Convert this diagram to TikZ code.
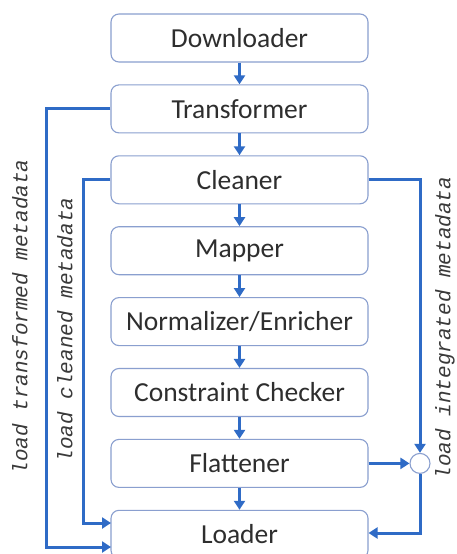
\documentclass[tikz,border=0pt]{standalone}
\usepackage{fontspec}
\setmainfont{Carlito}
\newfontfamily\labelfont{Liberation Mono}
\usetikzlibrary{arrows.meta}
\definecolor{boxline}{HTML}{8A9FCF}
\definecolor{flow}{HTML}{2F6BC6}
\definecolor{txt}{HTML}{2E2E2E}
\definecolor{ltxt}{HTML}{3A3A3A}
\tikzset{
  stage/.style={draw=boxline, line width=1.1pt, rounded corners=8pt, fill=white,
    minimum width=257pt, minimum height=48pt, inner sep=0pt,
    font=\fontsize{27.5}{30}\selectfont, text=txt},
  flowline/.style={draw=flow, line width=3pt, -{Triangle[length=9pt,width=11pt]}},
  vlabel/.style={rotate=90, font=\labelfont\itshape\fontsize{21}{24}\selectfont, text=ltxt, inner sep=0pt},
  junction/.style={circle, draw=boxline, line width=1.1pt, fill=white, minimum size=20pt, inner sep=0pt}
}
\begin{document}
\begin{tikzpicture}[x=1pt,y=-1pt]
\useasboundingbox (0,0) rectangle (456,554);
\clip (0,0) rectangle (456,554);
\fill[white] (0,0) rectangle (456,554);
\node[stage] (dl) at (239.5,38) {Downloader};
\node[stage] (tr) at (239.5,108.9) {Transformer};
\node[stage] (cl) at (239.5,179.8) {Cleaner};
\node[stage] (mp) at (239.5,250.7) {Mapper};
\node[stage] (ne) at (239.5,321.6) {Normalizer/Enricher};
\node[stage] (cc) at (239.5,392.5) {Constraint Checker};
\node[stage] (fl) at (239.5,463.4) {Flattener};
\node[stage] (ld) at (239.5,534.3) {Loader};
\node[junction] (j) at (420,463.4) {};

\draw[flowline] (dl) -- (tr);
\draw[flowline] (tr) -- (cl);
\draw[flowline] (cl) -- (mp);
\draw[flowline] (mp) -- (ne);
\draw[flowline] (ne) -- (cc);
\draw[flowline] (cc) -- (fl);
\draw[flowline] (fl) -- (ld);

\coordinate (lt) at (111,547);
\coordinate (lc) at (111,523);
\draw[flowline] (tr.west) -- (46,108.9) |- (lt);
\draw[flowline] (cl.west) -- (83,179.8) |- (lc);
\draw[flowline] (cl.east) -| (j.north);
\draw[flowline] (fl.east) -- (j.west);
\draw[flowline] (j.south) |- (ld.east |- 0,533);

\node[vlabel] (t1) at (20,317) {load transformed metadata};
\node[vlabel] (t2) at (65,330) {load cleaned metadata};
\node[vlabel] (t3) at (445,328) {load integrated metadata};
\end{tikzpicture}
\end{document}
